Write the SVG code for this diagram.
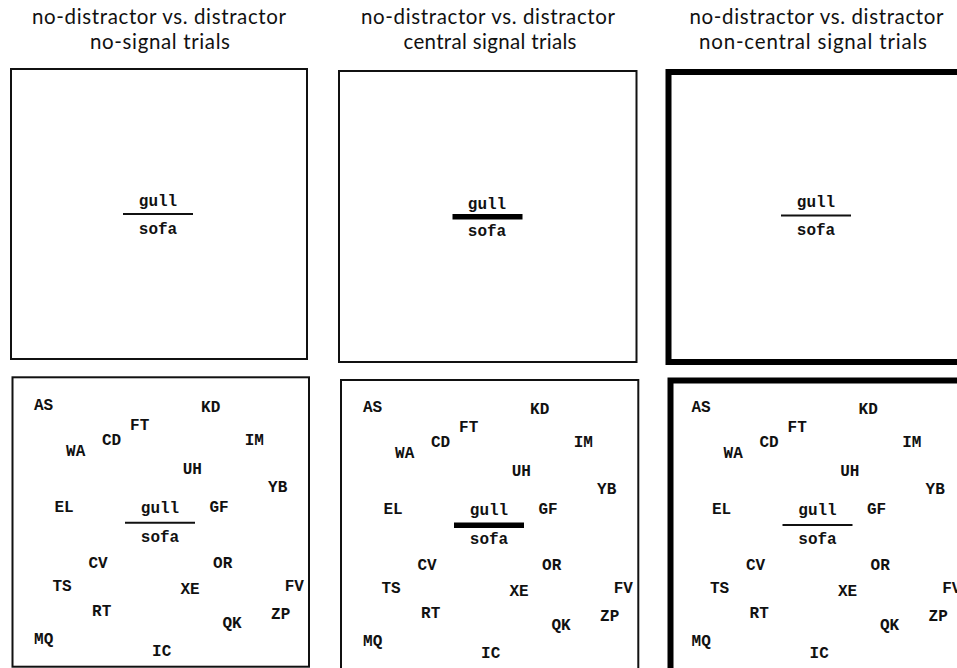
<svg xmlns="http://www.w3.org/2000/svg" width="957" height="668" viewBox="0 0 957 668">
<style>
.title{font-family:Lato,"Open Sans","Liberation Sans",sans-serif;font-size:20.5px;fill:#111;text-anchor:middle}
.w{font-family:"Liberation Mono","Courier New",monospace;font-size:16px;font-weight:bold;fill:#111;text-anchor:middle}
.thin{fill:none;stroke:#111;stroke-width:2}
.thick{fill:none;stroke:#000;stroke-width:6}
.bar{stroke:#111;stroke-width:2}
.barThick{stroke:#000;stroke-width:5.5}
</style>
<rect width="957" height="668" fill="#fff"/>
<g id="titles">
<text class="title" x="159" y="24" textLength="254" lengthAdjust="spacing">no-distractor vs. distractor</text>
<text class="title" x="160" y="49" textLength="140" lengthAdjust="spacing">no-signal trials</text>
<text class="title" x="488" y="24" textLength="254" lengthAdjust="spacing">no-distractor vs. distractor</text>
<text class="title" x="490" y="49" textLength="173" lengthAdjust="spacing">central signal trials</text>
<text class="title" x="816.5" y="24" textLength="254" lengthAdjust="spacing">no-distractor vs. distractor</text>
<text class="title" x="813" y="49" textLength="228" lengthAdjust="spacing">non-central signal trials</text>
</g>
<g id="panel-top-1">
<rect class="thin" x="11" y="69" width="296" height="290"/>
<text class="w" x="158" y="206">gull</text>
<line class="bar" x1="123" y1="214" x2="193" y2="214"/>
<text class="w" x="158" y="233.5">sofa</text>
</g>
<g id="panel-top-2">
<rect class="thin" x="339" y="71" width="297.5" height="291"/>
<text class="w" x="487" y="208.5">gull</text>
<line class="barThick" x1="452.5" y1="216.7" x2="522.5" y2="216.7"/>
<text class="w" x="487" y="236">sofa</text>
</g>
<g id="panel-top-3">
<rect class="thick" x="668.5" y="72" width="300" height="290"/>
<text class="w" x="816" y="206.5">gull</text>
<line class="bar" x1="781" y1="215.5" x2="851" y2="215.5"/>
<text class="w" x="816" y="234.5">sofa</text>
</g>
<g id="panel-bottom-1">
<rect class="thin" x="12.5" y="377.3" width="296.5" height="289.4"/>
<g>
<text class="w" x="43.5" y="410">AS</text>
<text class="w" x="210.7" y="412">KD</text>
<text class="w" x="139.7" y="430">FT</text>
<text class="w" x="111.5" y="444.5">CD</text>
<text class="w" x="75.7" y="456">WA</text>
<text class="w" x="254.3" y="444.5">IM</text>
<text class="w" x="192.3" y="474">UH</text>
<text class="w" x="277.7" y="492">YB</text>
<text class="w" x="64" y="512">EL</text>
<text class="w" x="160" y="512.7">gull</text>
<text class="w" x="219" y="512">GF</text>
<line class="bar" x1="125" y1="522.7" x2="195" y2="522.7"/>
<text class="w" x="160" y="542">sofa</text>
<text class="w" x="98" y="568">CV</text>
<text class="w" x="222.7" y="568">OR</text>
<text class="w" x="62" y="591">TS</text>
<text class="w" x="190" y="593.5">XE</text>
<text class="w" x="294.3" y="591">FV</text>
<text class="w" x="101.7" y="616">RT</text>
<text class="w" x="280.7" y="618.5">ZP</text>
<text class="w" x="232" y="627.5">QK</text>
<text class="w" x="43.7" y="644">MQ</text>
<text class="w" x="161.7" y="656">IC</text>
</g>
</g>
<g id="panel-bottom-2">
<rect class="thin" x="341" y="380" width="297.3" height="292"/>
<g transform="translate(329,2.4)">
<text class="w" x="43.5" y="410">AS</text>
<text class="w" x="210.7" y="412">KD</text>
<text class="w" x="139.7" y="430">FT</text>
<text class="w" x="111.5" y="444.5">CD</text>
<text class="w" x="75.7" y="456">WA</text>
<text class="w" x="254.3" y="444.5">IM</text>
<text class="w" x="192.3" y="474">UH</text>
<text class="w" x="277.7" y="492">YB</text>
<text class="w" x="64" y="512">EL</text>
<text class="w" x="160" y="512.7">gull</text>
<text class="w" x="219" y="512">GF</text>
<line class="barThick" x1="125" y1="522.8" x2="195" y2="522.8"/>
<text class="w" x="160" y="542">sofa</text>
<text class="w" x="98" y="568">CV</text>
<text class="w" x="222.7" y="568">OR</text>
<text class="w" x="62" y="591">TS</text>
<text class="w" x="190" y="593.5">XE</text>
<text class="w" x="294.3" y="591">FV</text>
<text class="w" x="101.7" y="616">RT</text>
<text class="w" x="280.7" y="618.5">ZP</text>
<text class="w" x="232" y="627.5">QK</text>
<text class="w" x="43.7" y="644">MQ</text>
<text class="w" x="161.7" y="656">IC</text>
</g>
</g>
<g id="panel-bottom-3">
<rect class="thick" x="670.5" y="380.5" width="300" height="292"/>
<g transform="translate(657.5,2.4)">
<text class="w" x="43.5" y="410">AS</text>
<text class="w" x="210.7" y="412">KD</text>
<text class="w" x="139.7" y="430">FT</text>
<text class="w" x="111.5" y="444.5">CD</text>
<text class="w" x="75.7" y="456">WA</text>
<text class="w" x="254.3" y="444.5">IM</text>
<text class="w" x="192.3" y="474">UH</text>
<text class="w" x="277.7" y="492">YB</text>
<text class="w" x="64" y="512">EL</text>
<text class="w" x="160" y="512.7">gull</text>
<text class="w" x="219" y="512">GF</text>
<line class="bar" x1="125" y1="522.7" x2="195" y2="522.7"/>
<text class="w" x="160" y="542">sofa</text>
<text class="w" x="98" y="568">CV</text>
<text class="w" x="222.7" y="568">OR</text>
<text class="w" x="62" y="591">TS</text>
<text class="w" x="190" y="593.5">XE</text>
<text class="w" x="294.3" y="591">FV</text>
<text class="w" x="101.7" y="616">RT</text>
<text class="w" x="280.7" y="618.5">ZP</text>
<text class="w" x="232" y="627.5">QK</text>
<text class="w" x="43.7" y="644">MQ</text>
<text class="w" x="161.7" y="656">IC</text>
</g>
</g>
</svg>
